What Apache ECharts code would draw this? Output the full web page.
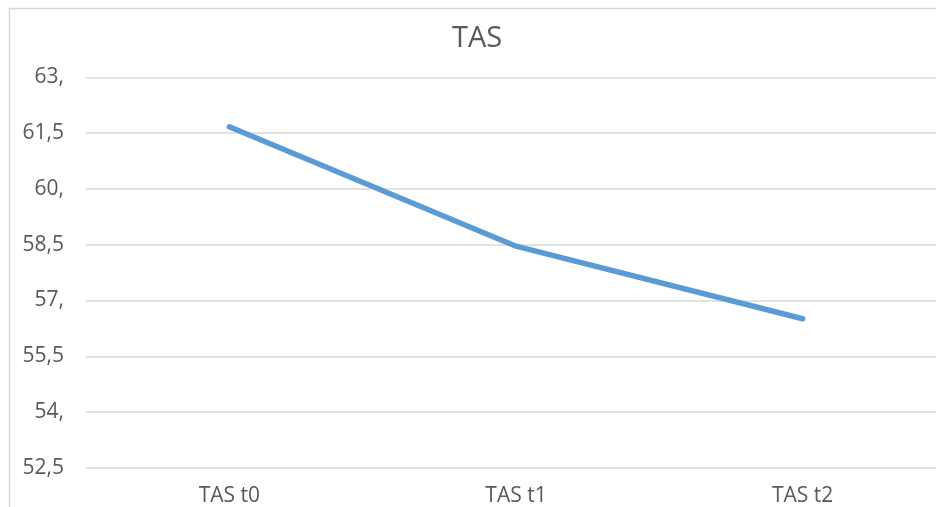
<!DOCTYPE html>
<html>
<head>
<meta charset="utf-8">
<script src="https://cdn.jsdelivr.net/npm/echarts@6/dist/echarts.min.js"></script>
<style>
html,body{margin:0;padding:0;background:#fff;overflow:hidden;width:936px;height:507px;}
#chart{width:946px;height:507px;}
</style>
</head>
<body>
<div id="chart"></div>
<script>
const categories = ['TAS t0', 'TAS t1', 'TAS t2'];
const tasValues = [61.67, 58.46, 56.51];
const yMin = 52.5, yMax = 63, yStep = 1.5;

function fmt(v) {
  const r = Math.round(v * 10) / 10;
  if (Number.isInteger(r)) return r + ',';
  return String(r).replace('.', ',');
}

const chart = echarts.init(document.getElementById('chart'));
chart.setOption({
  animation: false,
  backgroundColor: '#ffffff',
  title: {
    text: 'TAS',
    left: 447,
    top: 19,
    textStyle: { fontFamily: 'Open Sans', fontSize: 29, fontWeight: 'normal', color: '#595959' }
  },
  graphic: [{
    type: 'rect',
    shape: { x: 9.5, y: 8.5, width: 1000, height: 1000 },
    style: { fill: 'none', stroke: '#d9d9d9', lineWidth: 1.5 },
    silent: true
  }],
  grid: { left: 86, top: 77.3, right: 0, height: 390.6, containLabel: false },
  xAxis: {
    type: 'category',
    data: categories,
    boundaryGap: true,
    axisLine: { show: false },
    axisTick: { show: false },
    axisLabel: { fontFamily: 'Open Sans', fontSize: 21, color: '#595959', margin: 18 }
  },
  yAxis: {
    type: 'value',
    min: yMin,
    max: yMax,
    interval: yStep,
    axisLine: { show: false },
    axisTick: { show: false },
    splitLine: { lineStyle: { color: '#d9d9d9', width: 1.5 } },
    axisLabel: { fontFamily: 'Open Sans', fontSize: 21, color: '#595959', margin: 22, formatter: fmt }
  },
  series: [{
    type: 'line',
    data: tasValues,
    showSymbol: false,
    symbol: 'none',
    lineStyle: { color: '#5b9bd5', width: 5.5, cap: 'round', join: 'round' }
  }]
});
</script>
</body>
</html>
